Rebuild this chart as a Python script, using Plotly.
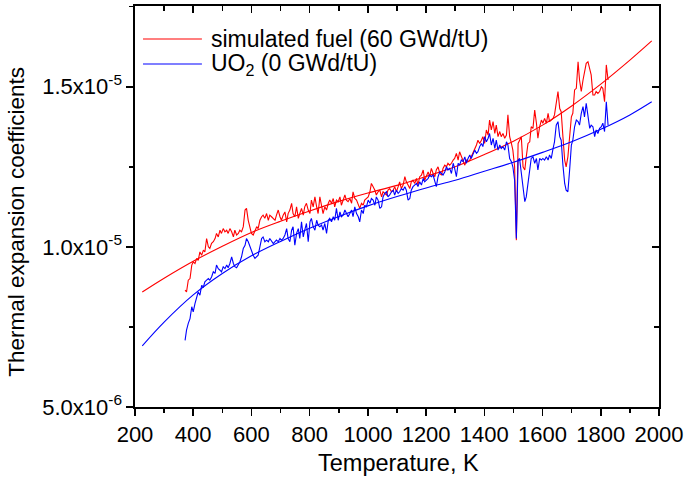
import plotly.graph_objects as go

# ---- data (temperature in K, expansion coefficient in units of 1e-6 /K) ----
red_T = [372,377,383,389,395,400,406,412,417,423,429,435,440,446,452,457,463,469,475,480,486,492,497,503,509,515,520,526,532,538,543,549,555,560,566,572,578,583,589,595,600,606,612,618,623,629,635,640,646,652,658,663,669,675,681,686,692,698,703,709,715,721,726,732,738,743,749,755,761,766,772,778,783,789,795,801,806,812,818,824,829,
         835,841,846,852,858,864,869,875,881,886,892,898,904,909,915,921,926,932,938,944,949,955,961,967,972,978,984,989,995,1001,1007,1012,1018,1024,1029,1035,1041,1047,1052,1058,1064,1069,1075,1081,1087,1092,1098,1104,1109,1115,1121,1127,1132,1138,1144,1149,1155,1161,1167,1172,1178,1184,1190,1195,1201,1207,1212,1218,1224,1230,1235,1241,1247,1253,1258,1264,1270,1275,1281,1287,1293,1298,1304,1310,1315,1321,1327,1333,1338,1344,1350,1355,1361,1367,1373,1378,1384,1390,1395,1401,1407,1413,1418,
         1424,1430,1436,1441,1447,1453,1458,1464,1470,1476,1481,1487,1493,1498,1504,1510,1516,1521,1527,1533,1539,1544,1550,1556,1561,1567,1573,1579,1584,1590,1596,1601,1607,1613,1619,1624,1630,1636,1641,1647,1653,1659,1664,1670,1676,1681,1687,1693,1699,1704,1710,1716,1722,1727,1733,1739,1744,1750,1756,1762,1767,1773,1779,1784,1790,1796,1802,1807,1813,1819,1825]
red_a = [8.65,8.59,8.96,9.01,9.43,9.53,9.48,9.64,9.58,9.84,9.74,9.90,9.84,10.26,10.00,9.95,10.11,10.16,10.26,10.42,10.31,10.52,10.42,10.57,10.47,10.52,10.42,10.57,10.47,10.31,10.52,10.37,10.42,10.52,10.47,10.63,11.15,11.20,10.83,10.63,10.42,10.37,10.52,10.63,10.57,10.83,10.94,10.99,10.89,11.04,10.83,10.99,10.94,10.89,10.83,10.99,11.15,10.94,10.83,10.99,11.09,10.78,11.04,11.15,11.36,11.04,10.94,11.25,10.89,11.04,11.20,10.99,11.25,11.36,11.15,11.04,11.46,11.25,11.56,11.25,11.04,
         11.56,11.25,11.04,11.25,11.15,11.36,11.46,11.36,11.51,11.25,11.46,11.41,11.56,11.30,11.46,11.62,11.46,11.41,11.51,11.36,11.72,11.51,11.46,11.30,11.20,11.36,11.30,11.46,11.51,11.56,11.72,11.98,11.88,11.77,11.62,11.72,11.77,11.56,11.72,11.67,11.62,11.77,11.82,11.72,11.77,11.88,11.72,11.88,12.03,11.82,11.93,12.19,12.03,11.93,11.82,12.03,12.08,11.98,12.14,11.93,12.19,12.24,12.40,12.08,12.24,12.34,12.19,12.45,12.29,12.19,12.40,12.50,12.29,12.24,12.45,12.55,12.50,12.61,12.55,12.61,12.71,12.76,12.92,12.71,12.97,12.81,12.71,12.55,12.71,12.66,12.71,12.81,12.97,13.07,13.18,13.33,13.23,13.33,13.44,13.23,13.65,13.49,13.96,
         13.65,13.91,13.54,13.80,13.44,13.60,13.44,13.54,13.39,13.49,14.12,13.44,13.23,13.02,12.50,10.21,13.23,13.33,13.44,12.50,12.40,12.81,13.23,13.28,13.75,13.70,14.27,13.86,13.39,13.75,13.96,13.86,14.01,13.86,14.17,13.91,13.96,14.01,14.12,14.58,14.85,14.32,14.22,13.44,12.71,12.50,12.81,13.44,14.06,14.17,14.90,14.95,15.78,15.21,14.85,15.21,15.42,15.73,15.78,15.52,15.37,14.74,14.74,14.85,14.79,14.85,15.00,14.95,14.53,15.68,15.21]

blue_T = red_T
blue_a = [7.08,7.40,7.61,7.76,8.13,7.97,8.23,8.44,8.59,8.49,8.80,8.75,8.91,8.96,9.01,8.96,9.06,9.22,9.17,9.43,9.32,9.27,9.22,9.38,9.32,9.43,9.35,9.48,9.69,9.48,9.38,9.35,9.43,9.53,9.69,9.95,10.05,10.26,10.16,10.00,9.84,9.74,9.64,9.69,9.74,10.00,10.26,10.31,10.16,10.21,10.16,10.26,10.16,10.10,10.16,10.21,10.16,10.26,10.21,10.26,10.37,10.57,10.26,10.16,10.52,10.63,10.05,10.42,10.57,10.26,10.78,10.31,10.52,10.73,10.16,10.78,10.89,10.63,10.52,10.83,10.68,
          10.63,10.68,10.52,10.73,10.42,10.83,10.89,10.78,10.94,10.83,11.20,10.83,11.09,10.94,10.99,11.15,11.04,10.94,11.04,11.15,10.94,11.25,11.04,10.94,10.78,11.15,11.04,11.30,11.25,11.46,11.36,11.51,11.46,11.30,11.56,11.46,11.20,11.25,11.56,11.67,11.72,11.56,11.62,11.72,11.77,11.62,11.77,11.67,11.72,11.82,11.77,11.88,11.77,11.46,11.51,11.77,11.88,11.93,11.98,11.88,12.03,11.93,12.14,12.03,12.08,12.14,12.24,12.19,12.24,12.08,11.88,12.19,12.34,12.29,12.24,12.34,12.50,12.40,12.45,12.29,12.61,12.45,12.19,12.61,12.55,12.71,12.66,12.81,12.61,12.76,12.87,12.76,12.92,13.02,12.92,12.97,13.13,13.23,13.13,13.44,13.28,13.39,13.54,
          13.18,13.39,13.07,13.33,13.02,13.18,13.07,13.13,13.02,13.28,13.18,12.76,12.66,12.50,12.08,10.26,12.71,12.76,12.29,11.77,11.41,11.56,11.98,12.40,12.76,12.81,12.61,12.76,12.40,12.76,12.71,12.76,12.71,12.81,12.71,12.87,12.76,13.07,13.28,13.80,13.91,13.44,13.33,12.55,11.98,11.77,11.72,12.40,13.18,13.33,13.75,13.96,13.91,13.80,14.17,14.38,14.06,14.48,14.12,13.70,13.80,13.75,13.44,13.65,13.54,13.70,13.75,13.86,13.60,14.53,13.80]

fit_T = [225,300,400,500,600,700,800,900,1000,1100,1200,1300,1400,1500,1600,1700,1800,1900,1975]
fit_red = [8.59,9.02,9.55,10.02,10.45,10.80,11.12,11.42,11.68,11.92,12.20,12.50,12.88,13.30,13.80,14.40,15.08,15.83,16.43]
fit_blue = [6.91,7.65,8.50,9.17,9.72,10.17,10.58,10.95,11.28,11.57,11.84,12.08,12.36,12.64,12.95,13.28,13.67,14.12,14.53]

x_ticks = [200,400,600,800,1000,1200,1400,1600,1800,2000]
y_tickvals = [5e-6, 1.0e-5, 1.5e-5]
y_ticktext = ["5.0x10<sup>-6</sup>", "1.0x10<sup>-5</sup>", "1.5x10<sup>-5</sup>"]
legend_names = ["simulated fuel (60 GWd/tU)", "UO<sub>2</sub> (0 GWd/tU)"]
x_title = "Temperature, K"
y_title = "Thermal expansion coefficients"

RED = "#ff0000"
BLUE = "#0000ff"
FONT = "Liberation Sans, Arial, sans-serif"

def sc(vals):
    return [v * 1e-6 for v in vals]

fig = go.Figure()
fig.add_trace(go.Scatter(x=red_T, y=sc(red_a), mode="lines", line=dict(color=RED, width=1.1), showlegend=False))
fig.add_trace(go.Scatter(x=fit_T, y=sc(fit_red), mode="lines", line=dict(color=RED, width=1.1, shape="spline"), showlegend=False))
fig.add_trace(go.Scatter(x=blue_T, y=sc(blue_a), mode="lines", line=dict(color=BLUE, width=1.1), showlegend=False))
fig.add_trace(go.Scatter(x=fit_T, y=sc(fit_blue), mode="lines", line=dict(color=BLUE, width=1.1, shape="spline"), showlegend=False))
# dummy trace for mirrored axes
fig.add_trace(go.Scatter(x=[None], y=[None], xaxis="x2", yaxis="y2", showlegend=False, hoverinfo="skip"))

xr = [200, 2000]
yr = [5e-6, 1.752e-5]
axis_common = dict(showline=True, linecolor="black", linewidth=1.6, showgrid=False, zeroline=False,
                   tickcolor="black", tickwidth=1.6, ticklen=7, automargin=False,
                   tickfont=dict(family=FONT, size=22, color="black"))

fig.update_layout(
    width=686, height=477,
    margin=dict(l=135, r=27, t=6, b=70, autoexpand=False),
    paper_bgcolor="white", plot_bgcolor="white",
    font=dict(family=FONT, size=22, color="black"),
    hovermode=False,
    xaxis=dict(range=xr, tickvals=x_ticks, ticks="outside",
               minor=dict(dtick=100, tick0=200, ticklen=4, tickwidth=1.6, tickcolor="black", ticks="outside"),
               **axis_common),
    yaxis=dict(range=yr, tickvals=y_tickvals, ticktext=y_ticktext, ticks="outside",
               minor=dict(dtick=2.5e-6, tick0=5e-6, ticklen=4, tickwidth=1.6, tickcolor="black", ticks="outside"),
               **axis_common),
    xaxis2=dict(range=xr, overlaying="x", side="top", anchor="y2", tickvals=x_ticks, ticks="inside",
                showticklabels=False,
                minor=dict(dtick=100, tick0=200, ticklen=5, tickwidth=1.6, tickcolor="black", ticks="inside"),
                **axis_common),
    yaxis2=dict(range=yr, overlaying="y", side="right", anchor="x2", tickvals=y_tickvals, ticks="inside",
                showticklabels=False,
                minor=dict(dtick=2.5e-6, tick0=5e-6, ticklen=5, tickwidth=1.6, tickcolor="black", ticks="inside"),
                **axis_common),
    showlegend=False,
)

# axis titles
fig.add_annotation(text=x_title, xref="paper", yref="paper", x=0.502, y=-0.14,
                   xanchor="center", yanchor="middle", showarrow=False,
                   font=dict(family=FONT, size=23.5, color="black"))
fig.add_annotation(text=y_title, xref="paper", yref="paper", x=-0.226, y=0.461,
                   xanchor="center", yanchor="middle", showarrow=False, textangle=-90,
                   font=dict(family=FONT, size=22.5, color="black"))

# legend (line samples + labels)
leg_y = [0.9177, 0.8553]
leg_colors = [RED, BLUE]
for name, yy, col in zip(legend_names, leg_y, leg_colors):
    fig.add_shape(type="line", xref="paper", yref="paper", x0=0.0153, x1=0.1277, y0=yy, y1=yy,
                  line=dict(color=col, width=1.1))
    fig.add_annotation(text=name, xref="paper", yref="paper", x=0.141, y=yy,
                       xanchor="left", yanchor="middle", showarrow=False,
                       font=dict(family=FONT, size=23, color="black"))

fig.write_html("out.html", config={"displayModeBar": False, "staticPlot": True},
               post_script="document.body.style.margin='0';document.body.style.overflow='hidden';")
